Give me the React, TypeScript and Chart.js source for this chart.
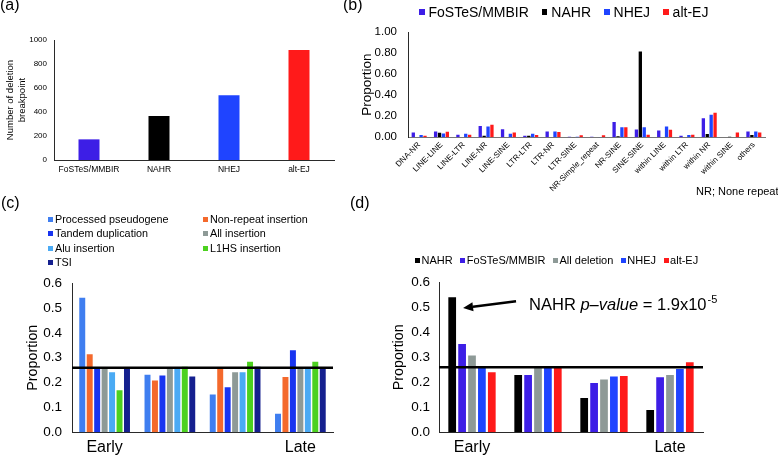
import React, { useEffect, useRef } from 'react';
import { Chart, registerables } from 'chart.js';

Chart.register(...registerables);

const FONT = '"Liberation Sans", Arial, Helvetica, sans-serif';
Chart.defaults.font.family = FONT;
Chart.defaults.color = '#000';

// ---------- Panel (a) ----------
const aCategories = ['FoSTeS/MMBIR', 'NAHR', 'NHEJ', 'alt-EJ'];
const aValues = [172, 367, 539, 917];
const aColors = ['#3D1EE6', '#000000', '#1F44FF', '#FF1A1A'];

// ---------- Panel (b) ----------
const bCategories = [
  'DNA-NR', 'LINE-LINE', 'LINE-LTR', 'LINE-NR', 'LINE-SINE', 'LTR-LTR', 'LTR-NR', 'LTR-SINE',
  'NR-Simple_repeat', 'NR-SINE', 'SINE-SINE', 'within LINE', 'within LTR', 'within NR', 'within SINE', 'others',
];
const bSeriesNames = ['FoSTeS/MMBIR', 'NAHR', 'NHEJ', 'alt-EJ'];
const bFoSTeS = [0.046, 0.056, 0.025, 0.108, 0.077, 0.015, 0.056, 0.006, 0.006, 0.146, 0.074, 0.065, 0.015, 0.18, 0.0, 0.056];
const bNAHR = [0.0, 0.043, 0.0, 0.015, 0.0, 0.015, 0.0, 0.003, 0.0, 0.009, 0.814, 0.0, 0.0, 0.031, 0.006, 0.022];
const bNHEJ = [0.022, 0.037, 0.034, 0.102, 0.034, 0.034, 0.056, 0.006, 0.003, 0.096, 0.096, 0.102, 0.022, 0.214, 0.0, 0.056];
const bAltEJ = [0.015, 0.053, 0.025, 0.118, 0.046, 0.022, 0.05, 0.019, 0.019, 0.096, 0.025, 0.071, 0.025, 0.232, 0.046, 0.046];
const bColors = ['#3D1EE6', '#000000', '#1F44FF', '#FF1A1A'];

// ---------- Panel (c) ----------
const cCategories = ['Early', '', '', 'Late'];
const cSeriesNames = [
  'Processed pseudogene', 'Non-repeat insertion', 'Tandem duplication', 'All insertion',
  'Alu insertion', 'L1HS insertion', 'TSI',
];
const cProcessed = [0.541, 0.231, 0.152, 0.075];
const cNonRepeat = [0.314, 0.208, 0.258, 0.222];
const cTandem = [0.258, 0.228, 0.181, 0.33];
const cAllInsertion = [0.258, 0.258, 0.241, 0.258];
const cAlu = [0.241, 0.258, 0.241, 0.258];
const cL1HS = [0.169, 0.264, 0.284, 0.284];
const cTSI = [0.258, 0.224, 0.264, 0.258];
const cColors = ['#3F7EF0', '#F4692C', '#1834F0', '#8E9A97', '#4AAAF4', '#4CD11F', '#15208F'];
const cExpected = 0.26;

// ---------- Panel (d) ----------
const dCategories = ['Early', '', '', 'Late'];
const dSeriesNames = ['NAHR', 'FoSTeS/MMBIR', 'All deletion', 'NHEJ', 'alt-EJ'];
const dNAHR = [0.54, 0.229, 0.137, 0.089];
const dFoSTeS = [0.353, 0.229, 0.197, 0.22];
const dAllDeletion = [0.307, 0.258, 0.211, 0.229];
const dNHEJ = [0.258, 0.258, 0.223, 0.253];
const dAltEJ = [0.24, 0.258, 0.225, 0.28];
const dColors = ['#000000', '#3D1EE6', '#8E9A97', '#1F44FF', '#FF1A1A'];
const dExpected = 0.26;

const AXIS_COLOR = '#2a2a2a';

function hLine(value: number) {
  return {
    id: 'hline',
    afterDatasetsDraw(chart: any) {
      const { ctx, chartArea, scales } = chart;
      const y = scales.y.getPixelForValue(value);
      ctx.save();
      ctx.strokeStyle = '#000';
      ctx.lineWidth = 2.5;
      ctx.beginPath();
      ctx.moveTo(chartArea.left, y);
      ctx.lineTo(chartArea.right, y);
      ctx.stroke();
      ctx.restore();
    },
  };
}

const arrowAnnotation = {
  id: 'arrowNote',
  afterDatasetsDraw(chart: any) {
    const { ctx, scales } = chart;
    const bar: any = chart.getDatasetMeta(0).data[0];
    const tipX = bar.x + bar.width / 2 + 7;
    const tipY = scales.y.getPixelForValue(0.497);
    const tailX = tipX + 53;
    const tailY = scales.y.getPixelForValue(0.524);
    const ang = Math.atan2(tipY - tailY, tipX - tailX);
    const headLen = 10;
    const headW = 4.5;
    const baseX = tipX - headLen * Math.cos(ang);
    const baseY = tipY - headLen * Math.sin(ang);
    ctx.save();
    ctx.strokeStyle = '#000';
    ctx.fillStyle = '#000';
    ctx.lineWidth = 2.5;
    ctx.beginPath();
    ctx.moveTo(tailX, tailY);
    ctx.lineTo(baseX, baseY);
    ctx.stroke();
    ctx.beginPath();
    ctx.moveTo(tipX, tipY);
    ctx.lineTo(baseX - headW * Math.sin(ang), baseY + headW * Math.cos(ang));
    ctx.lineTo(baseX + headW * Math.sin(ang), baseY - headW * Math.cos(ang));
    ctx.closePath();
    ctx.fill();

    let x = tailX + 13;
    const baseLine = scales.y.getPixelForValue(0.49);
    ctx.textBaseline = 'alphabetic';
    ctx.textAlign = 'left';
    const normal = `16.5px ${FONT}`;
    const italic = `italic 16.5px ${FONT}`;
    const parts: [string, string][] = [
      ['NAHR ', normal],
      ['p\u2013value', italic],
      [' = 1.9x10', normal],
    ];
    for (const [t, f] of parts) {
      ctx.font = f;
      ctx.fillText(t, x, baseLine);
      x += ctx.measureText(t).width;
    }
    ctx.font = `11px ${FONT}`;
    ctx.fillText('-5', x + 1, baseLine - 7);
    ctx.restore();
  },
};

function ChartBox(props: { left: number; top: number; width: number; height: number; make: () => any }) {
  const ref = useRef<HTMLCanvasElement>(null);
  useEffect(() => {
    const chart = new Chart(ref.current as HTMLCanvasElement, props.make());
    return () => chart.destroy();
  }, []);
  return (
    <canvas
      ref={ref}
      width={props.width}
      height={props.height}
      style={{ position: 'absolute', left: props.left, top: props.top, width: props.width, height: props.height }}
    />
  );
}

const makeA = () => ({
  type: 'bar',
  data: {
    labels: aCategories,
    datasets: [{ data: aValues, backgroundColor: aColors, barPercentage: 0.3, categoryPercentage: 1 }],
  },
  options: {
    animation: false,
    responsive: false,
    layout: { padding: { left: 0, right: 11, top: 40, bottom: 0 } },
    plugins: { legend: { display: false }, tooltip: { enabled: false } },
    scales: {
      x: {
        grid: { display: false, drawTicks: false },
        border: { display: true, color: AXIS_COLOR },
        ticks: { font: { size: 8.5 }, padding: 5, maxRotation: 0, autoSkip: false },
        afterFit(s: any) { s.height = 40; },
      },
      y: {
        min: 0,
        max: 1000,
        ticks: { stepSize: 200, font: { size: 8 }, padding: 7, callback: (v: any) => String(v) },
        grid: { display: false, drawTicks: false },
        border: { display: true, color: AXIS_COLOR },
        title: {
          display: true,
          text: ['Number of deletion', 'breakpoint'],
          font: { size: 9.5, lineHeight: 1.3 },
          padding: { top: 4, bottom: 0 },
        },
        afterFit(s: any) { s.width = 54; },
      },
    },
  },
});

const makeB = () => ({
  type: 'bar',
  data: {
    labels: bCategories,
    datasets: [bFoSTeS, bNAHR, bNHEJ, bAltEJ].map((d, i) => ({
      label: bSeriesNames[i],
      data: d,
      backgroundColor: bColors[i],
      categoryPercentage: 0.7,
      barPercentage: 0.85,
    })),
  },
  options: {
    animation: false,
    responsive: false,
    layout: { padding: { left: 0, right: 13, top: 32, bottom: 0 } },
    plugins: { legend: { display: false }, tooltip: { enabled: false } },
    scales: {
      x: {
        grid: { display: false, drawTicks: false },
        border: { display: true, color: '#777' },
        ticks: { font: { size: 8 }, padding: 3, minRotation: 45, maxRotation: 45, autoSkip: false },
        afterFit(s: any) { s.height = 67.7; },
      },
      y: {
        min: 0,
        max: 1,
        ticks: { stepSize: 0.2, font: { size: 11.5 }, padding: 11, callback: (v: any) => Number(v).toFixed(2) },
        grid: { display: false, drawTicks: false },
        border: { display: true, color: AXIS_COLOR },
        title: { display: true, text: 'Proportion', font: { size: 13.5 }, padding: { top: 14, bottom: 0 } },
        afterFit(s: any) { s.width = 63; },
      },
    },
  },
});

const makeC = () => ({
  type: 'bar',
  data: {
    labels: cCategories,
    datasets: [cProcessed, cNonRepeat, cTandem, cAllInsertion, cAlu, cL1HS, cTSI].map((d, i) => ({
      label: cSeriesNames[i],
      data: d,
      backgroundColor: cColors[i],
      categoryPercentage: 0.8,
      barPercentage: 0.8,
    })),
  },
  options: {
    animation: false,
    responsive: false,
    layout: { padding: { left: 20, right: 12, top: 17, bottom: 0 } },
    plugins: { legend: { display: false }, tooltip: { enabled: false } },
    scales: {
      x: {
        grid: { display: false, drawTicks: false },
        border: { display: true, color: AXIS_COLOR },
        ticks: { font: { size: 16 }, padding: 6, maxRotation: 0, autoSkip: false },
        afterFit(s: any) { s.height = 24.7; },
      },
      y: {
        min: 0,
        max: 0.6,
        ticks: { stepSize: 0.1, font: { size: 13.5 }, padding: 10, callback: (v: any) => Number(v).toFixed(1) },
        grid: { display: false, drawTicks: false },
        border: { display: true, color: AXIS_COLOR },
        title: { display: true, text: 'Proportion', font: { size: 14.3 }, padding: { top: 4, bottom: 0 } },
        afterFit(s: any) { s.width = 52; },
      },
    },
  },
  plugins: [hLine(cExpected)],
});

const makeD = () => ({
  type: 'bar',
  data: {
    labels: dCategories,
    datasets: [dNAHR, dFoSTeS, dAllDeletion, dNHEJ, dAltEJ].map((d, i) => ({
      label: dSeriesNames[i],
      data: d,
      backgroundColor: dColors[i],
      categoryPercentage: 0.75,
      barPercentage: 0.78,
    })),
  },
  options: {
    animation: false,
    responsive: false,
    layout: { padding: { left: 0, right: 75, top: 17.3, bottom: 0 } },
    plugins: { legend: { display: false }, tooltip: { enabled: false } },
    scales: {
      x: {
        grid: { display: false, drawTicks: false },
        border: { display: true, color: AXIS_COLOR },
        ticks: { font: { size: 16 }, padding: 6, maxRotation: 0, autoSkip: false },
        afterFit(s: any) { s.height = 24.7; },
      },
      y: {
        min: 0,
        max: 0.6,
        ticks: { stepSize: 0.1, font: { size: 13.5 }, padding: 9, callback: (v: any) => Number(v).toFixed(1) },
        grid: { display: false, drawTicks: false },
        border: { display: true, color: AXIS_COLOR },
        title: { display: true, text: 'Proportion', font: { size: 14.3 }, padding: { top: 0, bottom: 0 } },
        afterFit(s: any) { s.width = 49; },
      },
    },
  },
  plugins: [hLine(dExpected), arrowAnnotation],
});

function LegendItem(props: { label: string; color: string; box: number; gap: number; size: number }) {
  return (
    <span style={{ display: 'inline-flex', alignItems: 'center', whiteSpace: 'nowrap' }}>
      <span style={{ display: 'inline-block', width: props.box, height: props.box, background: props.color, marginRight: props.gap }} />
      <span style={{ fontSize: props.size, lineHeight: 1 }}>{props.label}</span>
    </span>
  );
}

const panelLabel: React.CSSProperties = { position: 'absolute', fontSize: 16, lineHeight: '16px', fontFamily: FONT, color: '#000' };

export default function App() {
  return (
    <div
      style={{
        position: 'absolute', left: 0, top: 0, width: 778, height: 457, overflow: 'hidden',
        background: '#fff', fontFamily: FONT, color: '#000',
      }}
    >
      <ChartBox left={0} top={0} width={345} height={200} make={makeA} />
      <ChartBox left={345} top={0} width={433} height={205} make={makeB} />
      <ChartBox left={0} top={265} width={345} height={192} make={makeC} />
      <ChartBox left={390} top={265} width={388} height={192} make={makeD} />

      <div style={{ ...panelLabel, left: 0, top: -3 }}>(a)</div>
      <div style={{ ...panelLabel, left: 343, top: -3 }}>(b)</div>
      <div style={{ ...panelLabel, left: 1, top: 195 }}>(c)</div>
      <div style={{ ...panelLabel, left: 350, top: 195 }}>(d)</div>

      {/* legend (b) */}
      <div style={{ position: 'absolute', left: 419, top: 4, height: 16, display: 'flex', alignItems: 'center', gap: 13 }}>
        {bSeriesNames.map((n, i) => (
          <LegendItem key={n} label={n} color={bColors[i]} box={5.5} gap={4} size={14} />
        ))}
      </div>
      <div style={{ position: 'absolute', left: 696, top: 185, fontSize: 11, lineHeight: '13px', whiteSpace: 'nowrap' }}>
        NR; None repeat
      </div>

      {/* legend (c) */}
      <div
        style={{
          position: 'absolute', left: 48, top: 212, display: 'grid',
          gridTemplateColumns: '155px 150px', gridAutoRows: '14.5px', alignItems: 'center',
        }}
      >
        {cSeriesNames.map((n, i) => (
          <LegendItem key={n} label={n} color={cColors[i]} box={5} gap={2} size={10.8} />
        ))}
      </div>

      {/* legend (d) */}
      <div style={{ position: 'absolute', left: 415, top: 252, height: 16, display: 'flex', alignItems: 'center', gap: 7.5 }}>
        {dSeriesNames.map((n, i) => (
          <LegendItem key={n} label={n} color={dColors[i]} box={5} gap={1.5} size={11} />
        ))}
      </div>
    </div>
  );
}
